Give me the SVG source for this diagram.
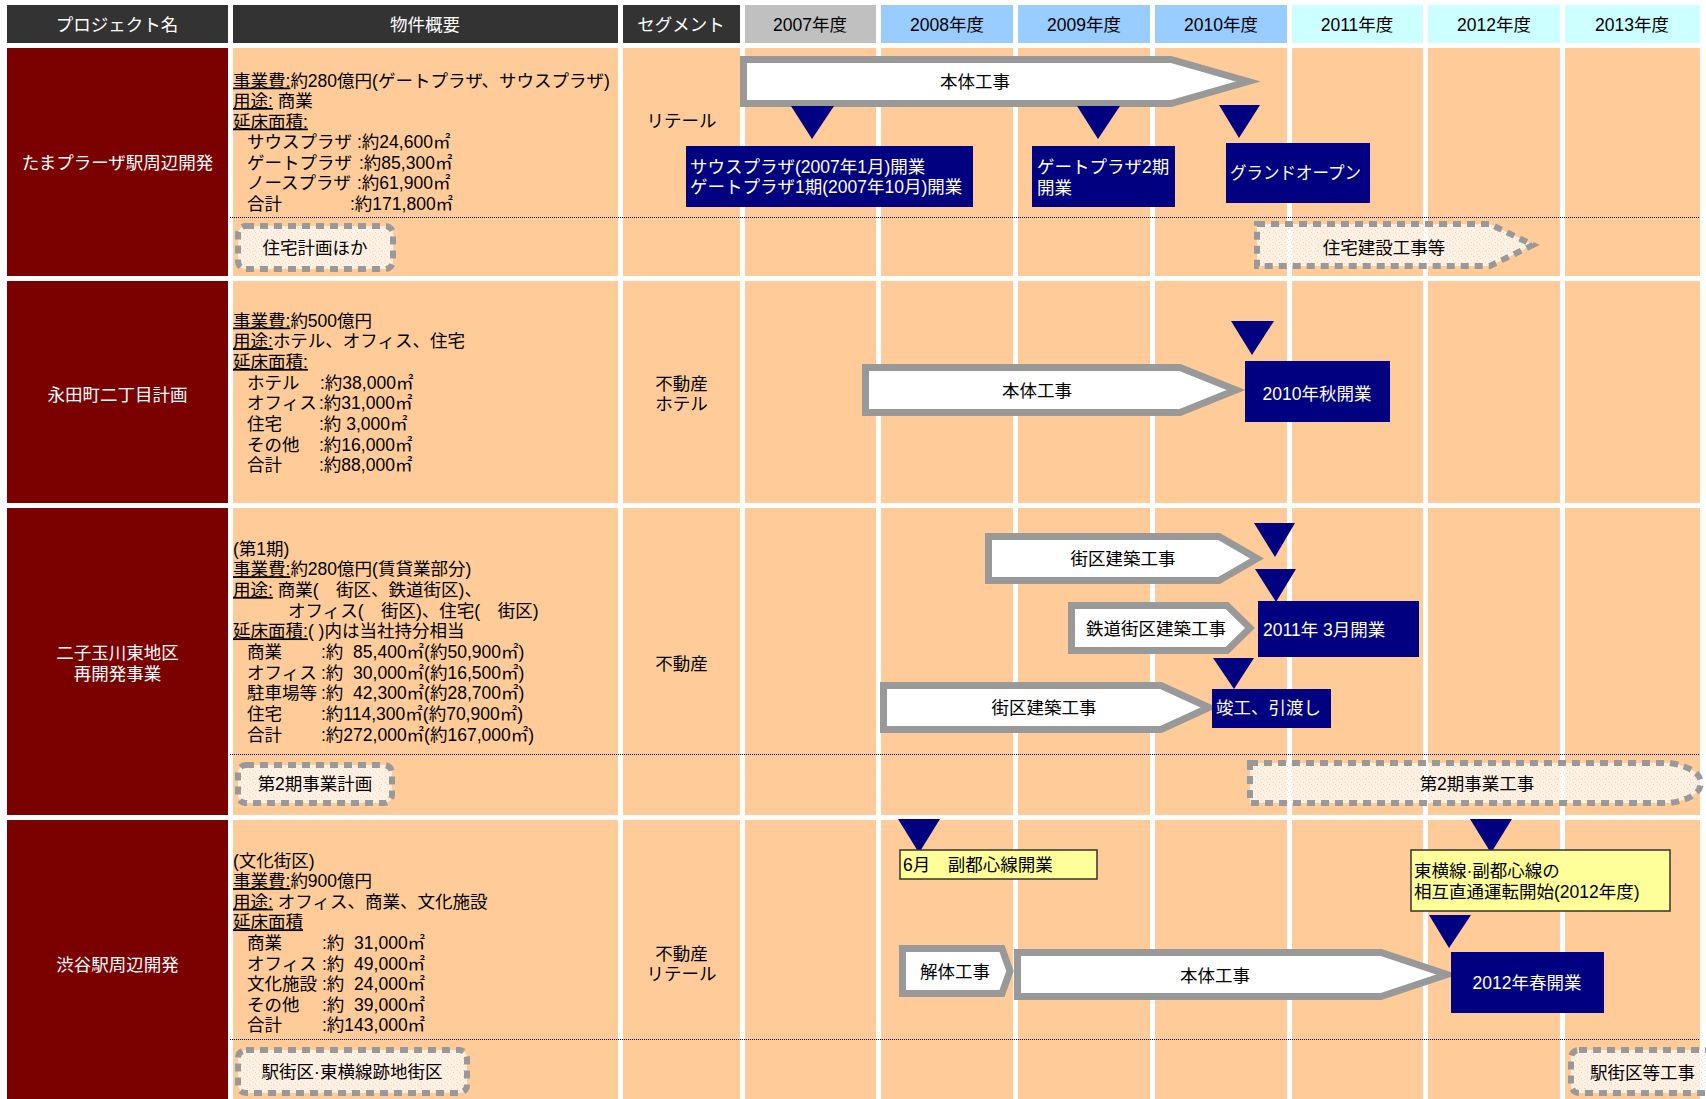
<svg xmlns="http://www.w3.org/2000/svg" width="1706" height="1099" viewBox="0 0 1706 1099">
<style>
text{font-family:"Liberation Sans","Noto Sans CJK JP",sans-serif;font-size:17.5px;fill:#000;white-space:pre}
.hd{fill:#333333}
.pj{fill:#7B0000}
.cell{fill:#FFCC99}
.wt{fill:#fff}
.c{text-anchor:middle}
.u{text-decoration:underline}
.arr{fill:#fff;stroke:#999999;stroke-width:7;stroke-linejoin:miter}
.dash{fill:url(#speck);stroke:#999999;stroke-width:6;stroke-dasharray:8 6}
.tri{fill:#000080}
.nb{fill:#000080}
.yb{fill:#FFFF99;stroke:#333;stroke-width:1.5}
.sep{stroke:#000;stroke-width:1;stroke-dasharray:1 1}
</style>
<defs>
<pattern id="speck" width="6" height="6" patternUnits="userSpaceOnUse">
<rect width="6" height="6" fill="#ffffff" fill-opacity="0.72"/>
<rect x="1" y="2" width="1" height="1" fill="#F5D2B4"/>
<rect x="4" y="0" width="1" height="1" fill="#F8E0CC"/>
<rect x="3" y="4" width="1" height="1" fill="#F5D2B4"/>
<rect x="0" y="5" width="1" height="1" fill="#F8E0CC"/>
</pattern>
</defs>
<rect width="1706" height="1099" fill="#fff"/>

<g id="header">
<rect class="hd" x="7" y="5" width="221" height="38"/>
<rect class="hd" x="233" y="5" width="385" height="38"/>
<rect class="hd" x="623" y="5" width="117" height="38"/>
<rect x="745" y="5" width="131" height="38" fill="#C0C0C0"/>
<rect x="881" y="5" width="132" height="38" fill="#99CCFF"/>
<rect x="1018" y="5" width="132" height="38" fill="#99CCFF"/>
<rect x="1155" y="5" width="132" height="38" fill="#99CCFF"/>
<rect x="1292" y="5" width="131" height="38" fill="#CCFFFF"/>
<rect x="1428" y="5" width="132" height="38" fill="#CCFFFF"/>
<rect x="1565" y="5" width="135" height="38" fill="#CCFFFF"/>
<text class="c wt" x="117" y="30.5">プロジェクト名</text>
<text class="c wt" x="425" y="30.5">物件概要</text>
<text class="c wt" x="681" y="30.5">セグメント</text>
<text class="c" x="810" y="30.5">2007年度</text>
<text class="c" x="947" y="30.5">2008年度</text>
<text class="c" x="1084" y="30.5">2009年度</text>
<text class="c" x="1221" y="30.5">2010年度</text>
<text class="c" x="1357" y="30.5">2011年度</text>
<text class="c" x="1494" y="30.5">2012年度</text>
<text class="c" x="1632" y="30.5">2013年度</text>
</g>

<g id="grid">
<rect class="pj" x="7" y="48" width="221" height="228"/>
<rect class="cell" x="233" y="48" width="385" height="228"/>
<rect class="cell" x="623" y="48" width="117" height="228"/>
<rect class="cell" x="745" y="48" width="131" height="228"/>
<rect class="cell" x="881" y="48" width="132" height="228"/>
<rect class="cell" x="1018" y="48" width="132" height="228"/>
<rect class="cell" x="1155" y="48" width="132" height="228"/>
<rect class="cell" x="1292" y="48" width="131" height="228"/>
<rect class="cell" x="1428" y="48" width="132" height="228"/>
<rect class="cell" x="1565" y="48" width="135" height="228"/>
<rect class="pj" x="7" y="281" width="221" height="222"/>
<rect class="cell" x="233" y="281" width="385" height="222"/>
<rect class="cell" x="623" y="281" width="117" height="222"/>
<rect class="cell" x="745" y="281" width="131" height="222"/>
<rect class="cell" x="881" y="281" width="132" height="222"/>
<rect class="cell" x="1018" y="281" width="132" height="222"/>
<rect class="cell" x="1155" y="281" width="132" height="222"/>
<rect class="cell" x="1292" y="281" width="131" height="222"/>
<rect class="cell" x="1428" y="281" width="132" height="222"/>
<rect class="cell" x="1565" y="281" width="135" height="222"/>
<rect class="pj" x="7" y="508" width="221" height="307"/>
<rect class="cell" x="233" y="508" width="385" height="307"/>
<rect class="cell" x="623" y="508" width="117" height="307"/>
<rect class="cell" x="745" y="508" width="131" height="307"/>
<rect class="cell" x="881" y="508" width="132" height="307"/>
<rect class="cell" x="1018" y="508" width="132" height="307"/>
<rect class="cell" x="1155" y="508" width="132" height="307"/>
<rect class="cell" x="1292" y="508" width="131" height="307"/>
<rect class="cell" x="1428" y="508" width="132" height="307"/>
<rect class="cell" x="1565" y="508" width="135" height="307"/>
<rect class="pj" x="7" y="820" width="221" height="279"/>
<rect class="cell" x="233" y="820" width="385" height="279"/>
<rect class="cell" x="623" y="820" width="117" height="279"/>
<rect class="cell" x="745" y="820" width="131" height="279"/>
<rect class="cell" x="881" y="820" width="132" height="279"/>
<rect class="cell" x="1018" y="820" width="132" height="279"/>
<rect class="cell" x="1155" y="820" width="132" height="279"/>
<rect class="cell" x="1292" y="820" width="131" height="279"/>
<rect class="cell" x="1428" y="820" width="132" height="279"/>
<rect class="cell" x="1565" y="820" width="135" height="279"/>
<line class="sep" x1="230" y1="217.5" x2="1700" y2="217.5"/>
<line class="sep" x1="230" y1="754.5" x2="1700" y2="754.5"/>
<line class="sep" x1="230" y1="1039.5" x2="1700" y2="1039.5"/>
</g>

<g id="project-tamaplaza">
<text class="c wt" x="117.5" y="168.5">たまプラーザ駅周辺開発</text>
<text x="233" y="86.5"><tspan class="u">事業費:</tspan>約280億円(ゲートプラザ、サウスプラザ)</text>
<text x="233" y="107"><tspan class="u">用途:</tspan> 商業</text>
<text x="233" y="127.5"><tspan class="u">延床面積:</tspan></text>
<text x="247" y="148">サウスプラザ</text><text x="357" y="148">:約24,600㎡</text>
<text x="247" y="168.5">ゲートプラザ</text><text x="359" y="168.5">:約85,300㎡</text>
<text x="247" y="189">ノースプラザ</text><text x="357" y="189">:約61,900㎡</text>
<text x="247" y="209.5">合計</text><text x="350" y="209.5">:約171,800㎡</text>
<text class="c" x="681.5" y="126.5">リテール</text>
</g>

<g id="project-nagatacho">
<text class="c wt" x="117.5" y="400.5">永田町二丁目計画</text>
<text x="233" y="326.5"><tspan class="u">事業費:</tspan>約500億円</text>
<text x="233" y="347.2"><tspan class="u">用途:</tspan>ホテル、オフィス、住宅</text>
<text x="233" y="367.9"><tspan class="u">延床面積:</tspan></text>
<text x="247" y="388.6">ホテル</text><text x="320" y="388.6">:約38,000㎡</text>
<text x="247" y="409.3">オフィス</text><text x="319" y="409.3">:約31,000㎡</text>
<text x="247" y="430">住宅</text><text x="319" y="430">:約 3,000㎡</text>
<text x="247" y="450.7">その他</text><text x="319" y="450.7">:約16,000㎡</text>
<text x="247" y="471.4">合計</text><text x="319" y="471.4">:約88,000㎡</text>
<text class="c" x="681.5" y="389.5">不動産</text>
<text class="c" x="681.5" y="409.5">ホテル</text>
</g>

<g id="project-futakotamagawa">
<text class="c wt" x="117.5" y="658.5">二子玉川東地区</text>
<text class="c wt" x="117.5" y="679.5">再開発事業</text>
<text x="233" y="554.5">(第1期)</text>
<text x="233" y="575.2"><tspan class="u">事業費:</tspan>約280億円(賃貸業部分)</text>
<text x="233" y="595.9"><tspan class="u">用途:</tspan> 商業(　街区、鉄道街区)、</text>
<text x="288" y="616.6">オフィス(　街区)、住宅(　街区)</text>
<text x="233" y="637.3"><tspan class="u">延床面積:</tspan>( )内は当社持分相当</text>
<text x="247" y="658">商業</text><text x="321" y="658">:約  85,400㎡(約50,900㎡)</text>
<text x="247" y="678.7">オフィス</text><text x="321" y="678.7">:約  30,000㎡(約16,500㎡)</text>
<text x="247" y="699.4">駐車場等</text><text x="321" y="699.4">:約  42,300㎡(約28,700㎡)</text>
<text x="247" y="720.1">住宅</text><text x="321" y="720.1">:約114,300㎡(約70,900㎡)</text>
<text x="247" y="740.8">合計</text><text x="321" y="740.8">:約272,000㎡(約167,000㎡)</text>
<text class="c" x="681.5" y="669.5">不動産</text>
</g>

<g id="project-shibuya">
<text class="c wt" x="117.5" y="970.5">渋谷駅周辺開発</text>
<text x="233" y="866.5">(文化街区)</text>
<text x="233" y="887.1"><tspan class="u">事業費:</tspan>約900億円</text>
<text x="233" y="907.7"><tspan class="u">用途:</tspan> オフィス、商業、文化施設</text>
<text x="233" y="928.3"><tspan class="u">延床面積</tspan></text>
<text x="247" y="948.9">商業</text><text x="322" y="948.9">:約  31,000㎡</text>
<text x="247" y="969.5">オフィス</text><text x="322" y="969.5">:約  49,000㎡</text>
<text x="247" y="990.1">文化施設</text><text x="322" y="990.1">:約  24,000㎡</text>
<text x="247" y="1010.7">その他</text><text x="322" y="1010.7">:約  39,000㎡</text>
<text x="247" y="1031.3">合計</text><text x="322" y="1031.3">:約143,000㎡</text>
<text class="c" x="681.5" y="959.5">不動産</text>
<text class="c" x="681.5" y="979.5">リテール</text>
</g>

<g id="plan-boxes">
<g id="box-jutaku-keikaku"><rect class="dash" x="238" y="226" width="155" height="43" rx="8"/><text class="c" x="315" y="253.5">住宅計画ほか</text></g>
<g id="box-dai2ki-keikaku"><rect class="dash" x="238" y="765" width="154" height="38" rx="8"/><text class="c" x="315" y="789.5">第2期事業計画</text></g>
<g id="box-ekigaiku"><rect class="dash" x="238" y="1050" width="229" height="43" rx="8"/><text class="c" x="352" y="1077.5">駅街区·東横線跡地街区</text></g>
<g id="arrow-jutaku-kensetsu"><polygon class="dash" points="1257,224 1490,224 1533,245 1490,266 1257,266"/><text class="c" x="1384" y="253.5">住宅建設工事等</text></g>
<g id="arrow-dai2ki-koji"><path class="dash" d="M1250,763 H1670 Q1700,768 1701,783 Q1700,798 1670,803 H1250 Z"/><text class="c" x="1477" y="789.5">第2期事業工事</text></g>
<g id="box-ekigaiku-koji"><rect class="dash" x="1571" y="1050" width="200" height="43" rx="8"/><text x="1590" y="1078.5">駅街区等工事</text></g>
</g>

<g id="work-arrows">
<g id="arrow-tama-hontai"><polygon class="arr" points="743.5,59.5 1171,59.5 1248,81.5 1171,103.5 743.5,103.5"/><text class="c" x="975" y="87.5">本体工事</text></g>
<g id="arrow-naga-hontai"><polygon class="arr" points="865.5,367.5 1180,367.5 1236,390 1180,412.5 865.5,412.5"/><text class="c" x="1037" y="396.5">本体工事</text></g>
<g id="arrow-futa-gaiku1"><polygon class="arr" points="988.5,536.5 1219,536.5 1257,558.5 1219,580.5 988.5,580.5"/><text class="c" x="1123" y="565">街区建築工事</text></g>
<g id="arrow-futa-tetsudo"><polygon class="arr" points="1071.5,605.5 1227,605.5 1250,628 1227,650.5 1071.5,650.5"/><text class="c" x="1156" y="634.5">鉄道街区建築工事</text></g>
<g id="arrow-futa-gaiku2"><polygon class="arr" points="883.5,685.5 1161,685.5 1209,707.5 1161,729.5 883.5,729.5"/><text class="c" x="1044" y="714">街区建築工事</text></g>
<g id="arrow-shibu-kaitai"><polygon class="arr" points="902.5,948.5 1002,948.5 1010,971 1002,993.5 902.5,993.5"/><text class="c" x="955" y="977.5">解体工事</text></g>
<g id="arrow-shibu-hontai"><polygon class="arr" points="1017.5,952.5 1381,952.5 1447,974.5 1381,996.5 1017.5,996.5"/><text class="c" x="1215" y="981.5">本体工事</text></g>
</g>

<g id="milestones">
<polygon class="tri" points="791,106 834,106 812,139"/>
<polygon class="tri" points="1077,106 1120,106 1098,139"/>
<polygon class="tri" points="1219,105 1260,105 1239,138"/>
<g id="ms-south-gate"><rect class="nb" x="686" y="146" width="287" height="61"/><text class="wt" x="690" y="172.5">サウスプラザ(2007年1月)開業</text><text class="wt" x="690" y="193">ゲートプラザ1期(2007年10月)開業</text></g>
<g id="ms-gate2"><rect class="nb" x="1032" y="146" width="143" height="61"/><text class="wt" x="1037" y="172.5">ゲートプラザ2期</text><text class="wt" x="1037" y="193.5">開業</text></g>
<g id="ms-grand"><rect class="nb" x="1226" y="143" width="144" height="60"/><text class="wt" x="1230" y="178.5" textLength="131" lengthAdjust="spacingAndGlyphs">グランドオープン</text></g>

<polygon class="tri" points="1231,321 1274,321 1252,355"/>
<g id="ms-2010aki"><rect class="nb" x="1245" y="361" width="145" height="61"/><text class="c wt" x="1317" y="399.5">2010年秋開業</text></g>

<polygon class="tri" points="1254,523 1295,523 1275,557"/>
<polygon class="tri" points="1255,569 1296,569 1276,602"/>
<g id="ms-2011"><rect class="nb" x="1258" y="601" width="161" height="56"/><text class="wt" x="1263" y="635.5">2011年 3月開業</text></g>
<polygon class="tri" points="1213,658 1254,658 1234,689"/>
<g id="ms-shunko"><rect class="nb" x="1212" y="689" width="119" height="39"/><text class="wt" x="1216" y="714">竣工、引渡し</text></g>

<polygon class="tri" points="898,819 940,819 919,853"/>
<g id="ms-fukutoshin"><rect class="yb" x="900" y="850" width="197" height="29"/><text x="903" y="870.5">6月　副都心線開業</text></g>
<polygon class="tri" points="1470,819 1512,819 1491,853"/>
<g id="ms-sogo"><rect class="yb" x="1411" y="850" width="259" height="61"/><text x="1414" y="876.5">東横線·副都心線の</text><text x="1414" y="897.5">相互直通運転開始(2012年度)</text></g>
<polygon class="tri" points="1429,915 1471,915 1449,948"/>
<g id="ms-2012haru"><rect class="nb" x="1451" y="952" width="153" height="61"/><text class="c wt" x="1527" y="988.5">2012年春開業</text></g>
</g>
</svg>
